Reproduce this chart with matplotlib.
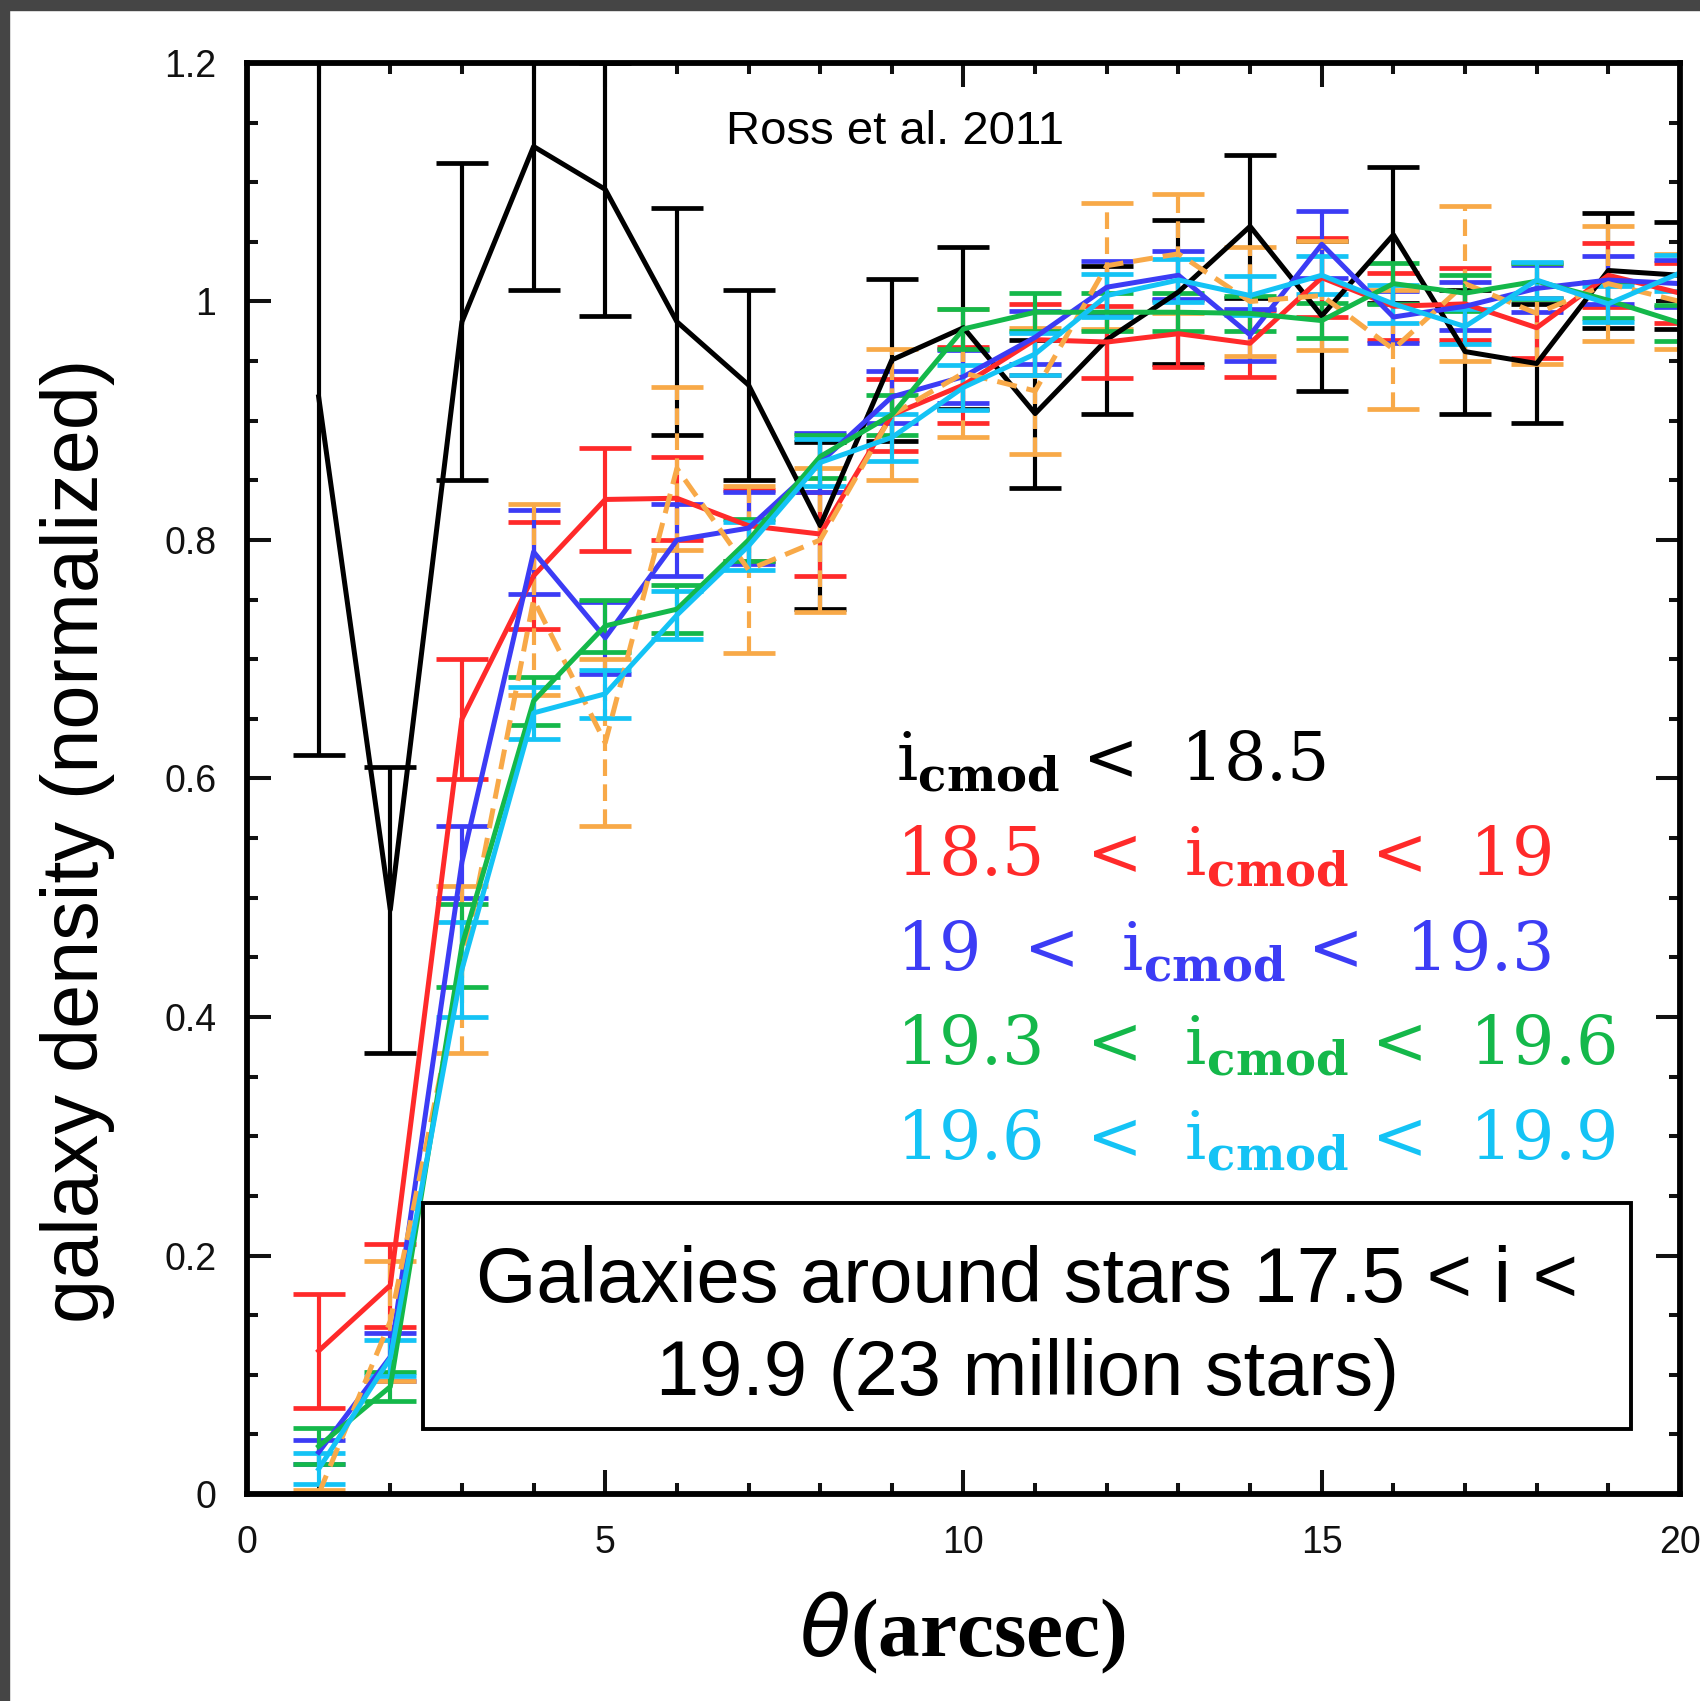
import matplotlib
matplotlib.use("Agg")
from matplotlib import pyplot as plt
from matplotlib.patches import Rectangle
from matplotlib.ticker import MultipleLocator, FuncFormatter

# angular separation (arcsec)
theta = [1, 2, 3, 4, 5, 6, 7, 8, 9, 10, 11, 12, 13, 14, 15, 16, 17, 18, 19, 20]

# i_cmod < 18.5
black = [0.92, 0.49, 0.983, 1.13, 1.094, 0.983, 0.93, 0.812, 0.951, 0.978,
         0.906, 0.968, 1.008, 1.063, 0.988, 1.056, 0.958, 0.948, 1.026, 1.022]
black_err = [0.30, 0.12, 0.133, 0.12, 0.106, 0.095, 0.08, 0.07, 0.068, 0.068,
             0.062, 0.062, 0.06, 0.06, 0.063, 0.057, 0.052, 0.05, 0.048, 0.045]

# 18.5 < i_cmod < 19
red = [0.12, 0.175, 0.65, 0.77, 0.834, 0.835, 0.812, 0.805, 0.905, 0.93,
       0.968, 0.966, 0.973, 0.965, 1.02, 0.996, 0.998, 0.978, 1.022, 1.007]
red_err = [0.048, 0.035, 0.05, 0.045, 0.043, 0.035, 0.03, 0.035, 0.03, 0.032,
           0.03, 0.03, 0.028, 0.028, 0.033, 0.028, 0.03, 0.025, 0.027, 0.025]

# 19 < i_cmod < 19.3
blue = [0.035, 0.115, 0.53, 0.79, 0.718, 0.80, 0.81, 0.865, 0.92, 0.937,
        0.97, 1.012, 1.022, 0.972, 1.048, 0.987, 0.996, 1.011, 1.018, 1.015]
blue_err = [0.01, 0.02, 0.03, 0.035, 0.03, 0.03, 0.03, 0.025, 0.022, 0.022,
            0.022, 0.022, 0.02, 0.022, 0.028, 0.022, 0.02, 0.02, 0.02, 0.02]

# 19.3 < i_cmod < 19.6
green = [0.04, 0.09, 0.46, 0.665, 0.728, 0.742, 0.80, 0.87, 0.905, 0.977,
         0.991, 0.991, 0.991, 0.99, 0.984, 1.015, 1.007, 1.017, 1.001, 0.982]
green_err = [0.015, 0.012, 0.035, 0.02, 0.022, 0.02, 0.018, 0.018, 0.017, 0.017,
             0.016, 0.016, 0.016, 0.015, 0.015, 0.017, 0.015, 0.015, 0.015, 0.015]

# 19.6 < i_cmod < 19.9
cyan = [0.021, 0.114, 0.44, 0.655, 0.671, 0.737, 0.795, 0.865, 0.886, 0.928,
        0.956, 1.005, 1.018, 1.005, 1.022, 0.998, 0.979, 1.018, 0.998, 1.024]
cyan_err = [0.013, 0.015, 0.04, 0.022, 0.02, 0.02, 0.02, 0.02, 0.02, 0.019,
            0.018, 0.018, 0.018, 0.016, 0.016, 0.016, 0.015, 0.015, 0.015, 0.015]

# dashed orange sample
orange = [0.0, 0.145, 0.44, 0.75, 0.63, 0.86, 0.775, 0.80, 0.905, 0.94,
          0.925, 1.03, 1.04, 1.0, 1.005, 0.96, 1.015, 0.99, 1.015, 1.0]
orange_err = [0.003, 0.05, 0.07, 0.08, 0.07, 0.068, 0.07, 0.06, 0.055, 0.054,
              0.053, 0.053, 0.05, 0.046, 0.046, 0.05, 0.065, 0.042, 0.048, 0.04]

legend_lines = [
    r"$\mathrm{i}_{\mathbf{cmod}}$ <  18.5",
    r"18.5  <  $\mathrm{i}_{\mathbf{cmod}}$ <  19",
    r"19  <  $\mathrm{i}_{\mathbf{cmod}}$ <  19.3",
    r"19.3  <  $\mathrm{i}_{\mathbf{cmod}}$ <  19.6",
    r"19.6  <  $\mathrm{i}_{\mathbf{cmod}}$ <  19.9",
]

C_BLACK = "#000000"
C_RED = "#ff2a2a"
C_BLUE = "#3c3cf5"
C_GREEN = "#14b84a"
C_CYAN = "#14c3f5"
C_ORANGE = "#f8a948"

plt.rcParams['font.family'] = ['Liberation Sans', 'DejaVu Sans']
plt.rcParams['mathtext.fontset'] = 'custom'
plt.rcParams['mathtext.rm'] = 'DejaVu Serif'
plt.rcParams['mathtext.bf'] = 'DejaVu Serif:bold'


def draw(ax, y, err, color, dashed=False):
    ls = (0, (4, 2)) if dashed else '-'
    line, caps, bars = ax.errorbar(theta, y, yerr=err, color=color, lw=3.6,
                                   ls=ls, capsize=19, capthick=3.4, elinewidth=3.0)
    if dashed:
        for b in bars:
            b.set_linestyle((0, (4, 2)))
    return line


fig = plt.figure(figsize=(17, 17.01), dpi=100)
ax = fig.add_axes([247 / 1700, 1 - 1494 / 1701, 1433 / 1700, 1431 / 1701])

draw(ax, black, black_err, C_BLACK)
draw(ax, red, red_err, C_RED)
draw(ax, blue, blue_err, C_BLUE)
draw(ax, orange, orange_err, C_ORANGE, dashed=True)
draw(ax, green, green_err, C_GREEN)
draw(ax, cyan, cyan_err, C_CYAN)

ax.set_xlim(0, 20)
ax.set_ylim(0, 1.2)
ax.xaxis.set_major_locator(MultipleLocator(5))
ax.xaxis.set_minor_locator(MultipleLocator(1))
ax.yaxis.set_major_locator(MultipleLocator(0.2))
ax.yaxis.set_minor_locator(MultipleLocator(0.05))
fmt = FuncFormatter(lambda v, p: "%g" % round(v, 3))
ax.xaxis.set_major_formatter(fmt)
ax.yaxis.set_major_formatter(fmt)
ax.tick_params(which='both', direction='in', top=True, right=True, width=2.9,
               labelsize=27, pad=22, colors='#111111')
ax.tick_params(which='major', length=17)
ax.tick_params(which='minor', length=8)
for s in ax.spines.values():
    s.set_linewidth(4.2)

ax.text(0.334, 0.952, "Ross et al. 2011", transform=ax.transAxes,
        fontsize=34, va='center', ha='left')

colors = [C_BLACK, C_RED, C_BLUE, C_GREEN, C_CYAN]
ys = [0.499, 0.432, 0.366, 0.300, 0.234]
for txt, c, yy in zip(legend_lines, colors, ys):
    ax.text(0.453, yy, txt, transform=ax.transAxes, color=c, fontsize=48,
            family='DejaVu Serif', va='baseline', ha='left')

ax.add_patch(Rectangle((0.123, 0.0455), 0.843, 0.158, transform=ax.transAxes,
                       fill=True, facecolor='white', edgecolor='black', lw=2.8,
                       zorder=5))
ax.text(0.5445, 0.116, "Galaxies around stars 17.5 < i <\n19.9 (23 million stars)",
        transform=ax.transAxes, ha='center', va='center', fontsize=56,
        linespacing=1.36, zorder=6)

fig.text(78 / 1700, 1 - 841 / 1701, "galaxy density (normalized)", rotation=90,
         ha='center', va='center', fontsize=57)
fig.text(963 / 1700, 1 - 1633 / 1701, r"$\theta$(arcsec)", ha='center', va='center',
         fontsize=60, family='Liberation Serif', weight='bold')

# dark frame strips at the top and left edge of the picture
fig.add_artist(Rectangle((0, 1 - 10 / 1701), 1, 10 / 1701, transform=fig.transFigure,
                         color='#454545', zorder=10))
fig.add_artist(Rectangle((0, 0), 9 / 1700, 1, transform=fig.transFigure,
                         color='#454545', zorder=10))

fig.savefig("out.png", dpi=100)
